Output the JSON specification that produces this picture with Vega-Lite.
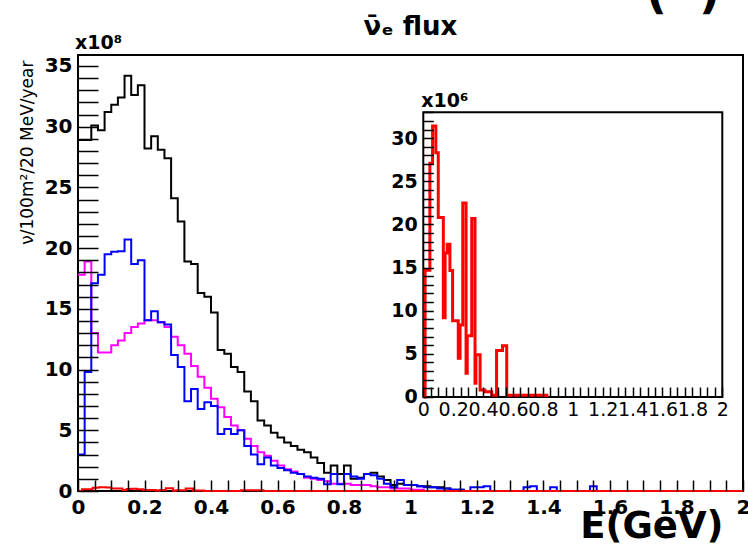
{
  "$schema": "https://vega.github.io/schema/vega-lite/v6.json",
  "width": 665,
  "height": 436,
  "autosize": {"type": "none"},
  "padding": {"left": 78, "top": 55, "right": 5, "bottom": 62},
  "background": "white",
  "title": {"text": "ν̄ₑ flux", "frame": "group", "anchor": "middle", "font": "DejaVu Sans", "fontSize": 26, "fontWeight": "bold", "color": "black", "offset": -90, "baseline": "alphabetic"},
  "config": {
    "view": {"stroke": "black", "strokeWidth": 2},
    "axis": {"grid": false, "domain": false, "tickColor": "black", "tickWidth": 1.5, "labelColor": "black", "labelFont": "DejaVu Sans", "labelFontWeight": "bold", "labelFontSize": 20, "labelOverlap": false, "labelFlush": false, "titleColor": "black"}
  },
  "datasets": {
    "black": [
      {"x": 0, "v": 28.9}, {"x": 0.02, "v": 28.9}, {"x": 0.04, "v": 30.1}, {"x": 0.06, "v": 29.7}, {"x": 0.08, "v": 31.2}, {"x": 0.10, "v": 31.8}, {"x": 0.12, "v": 32.4}, {"x": 0.14, "v": 34.2}, {"x": 0.16, "v": 32.6}, {"x": 0.18, "v": 33.4},
      {"x": 0.20, "v": 28.2}, {"x": 0.22, "v": 29.2}, {"x": 0.24, "v": 28.1}, {"x": 0.26, "v": 27.4}, {"x": 0.28, "v": 24.1}, {"x": 0.30, "v": 22.2}, {"x": 0.32, "v": 18.9}, {"x": 0.34, "v": 18.7}, {"x": 0.36, "v": 16.3}, {"x": 0.38, "v": 16.0},
      {"x": 0.40, "v": 14.7}, {"x": 0.42, "v": 11.6}, {"x": 0.44, "v": 11.3}, {"x": 0.46, "v": 10.2}, {"x": 0.48, "v": 9.8}, {"x": 0.50, "v": 8.2}, {"x": 0.52, "v": 7.4}, {"x": 0.54, "v": 5.8}, {"x": 0.56, "v": 5.4}, {"x": 0.58, "v": 4.8},
      {"x": 0.60, "v": 4.4}, {"x": 0.62, "v": 4.0}, {"x": 0.64, "v": 3.7}, {"x": 0.66, "v": 3.4}, {"x": 0.68, "v": 3.2}, {"x": 0.70, "v": 2.75}, {"x": 0.72, "v": 2.3}, {"x": 0.74, "v": 1.5}, {"x": 0.76, "v": 2.1}, {"x": 0.78, "v": 1.4},
      {"x": 0.80, "v": 2.1}, {"x": 0.82, "v": 1.0}, {"x": 0.84, "v": 1.1}, {"x": 0.86, "v": 1.4}, {"x": 0.88, "v": 1.5}, {"x": 0.90, "v": 1.2}, {"x": 0.92, "v": 0.9}, {"x": 0.94, "v": 0.5}, {"x": 0.96, "v": 0.6}, {"x": 0.98, "v": 0.5},
      {"x": 1.00, "v": 0.5}, {"x": 1.02, "v": 0.4}, {"x": 1.04, "v": 0.4}, {"x": 1.06, "v": 0.3}, {"x": 1.08, "v": 0.3}, {"x": 1.10, "v": 0.2}, {"x": 1.12, "v": 0.1}, {"x": 1.14, "v": 0.1}, {"x": 1.16, "v": 0}, {"x": 2.0, "v": 0}
    ],
    "magenta": [
      {"x": 0, "v": 17.8}, {"x": 0.02, "v": 18.9}, {"x": 0.04, "v": 13.0}, {"x": 0.06, "v": 11.4}, {"x": 0.08, "v": 11.4}, {"x": 0.10, "v": 12.0}, {"x": 0.12, "v": 12.4}, {"x": 0.14, "v": 13.0}, {"x": 0.16, "v": 13.5}, {"x": 0.18, "v": 13.8},
      {"x": 0.20, "v": 14.05}, {"x": 0.22, "v": 14.05}, {"x": 0.24, "v": 13.9}, {"x": 0.26, "v": 13.5}, {"x": 0.28, "v": 12.7}, {"x": 0.30, "v": 12.0}, {"x": 0.32, "v": 11.3}, {"x": 0.34, "v": 10.3}, {"x": 0.36, "v": 9.4}, {"x": 0.38, "v": 8.5},
      {"x": 0.40, "v": 7.6}, {"x": 0.42, "v": 6.9}, {"x": 0.44, "v": 6.1}, {"x": 0.46, "v": 5.4}, {"x": 0.48, "v": 5.0}, {"x": 0.50, "v": 4.3}, {"x": 0.52, "v": 3.7}, {"x": 0.54, "v": 3.2}, {"x": 0.56, "v": 2.9}, {"x": 0.58, "v": 2.5},
      {"x": 0.60, "v": 2.1}, {"x": 0.62, "v": 1.8}, {"x": 0.64, "v": 1.6}, {"x": 0.66, "v": 1.4}, {"x": 0.68, "v": 1.1}, {"x": 0.70, "v": 1.0}, {"x": 0.72, "v": 0.9}, {"x": 0.74, "v": 0.8}, {"x": 0.76, "v": 0.6}, {"x": 0.78, "v": 0.6},
      {"x": 0.80, "v": 0.6}, {"x": 0.82, "v": 0.5}, {"x": 0.84, "v": 0.5}, {"x": 0.86, "v": 0.5}, {"x": 0.88, "v": 0.4}, {"x": 0.90, "v": 0.3}, {"x": 0.92, "v": 0.3}, {"x": 0.94, "v": 0.2}, {"x": 0.96, "v": 0.2}, {"x": 0.98, "v": 0.2},
      {"x": 1.00, "v": 0.1}, {"x": 1.02, "v": 0.1}, {"x": 1.04, "v": 0}, {"x": 2.0, "v": 0}
    ],
    "blue": [
      {"x": 0, "v": 3.0}, {"x": 0.02, "v": 9.8}, {"x": 0.04, "v": 17.1}, {"x": 0.06, "v": 17.8}, {"x": 0.08, "v": 19.5}, {"x": 0.10, "v": 19.7}, {"x": 0.12, "v": 19.75}, {"x": 0.14, "v": 20.7}, {"x": 0.16, "v": 18.7}, {"x": 0.18, "v": 19.0},
      {"x": 0.20, "v": 14.05}, {"x": 0.22, "v": 14.8}, {"x": 0.24, "v": 13.9}, {"x": 0.26, "v": 13.7}, {"x": 0.28, "v": 11.2}, {"x": 0.30, "v": 10.2}, {"x": 0.32, "v": 7.4}, {"x": 0.34, "v": 8.4}, {"x": 0.36, "v": 6.75}, {"x": 0.38, "v": 7.3},
      {"x": 0.40, "v": 7.0}, {"x": 0.42, "v": 4.7}, {"x": 0.44, "v": 5.1}, {"x": 0.46, "v": 4.7}, {"x": 0.48, "v": 5.0}, {"x": 0.50, "v": 3.7}, {"x": 0.52, "v": 3.0}, {"x": 0.54, "v": 2.2}, {"x": 0.56, "v": 2.75}, {"x": 0.58, "v": 2.1},
      {"x": 0.60, "v": 1.9}, {"x": 0.62, "v": 1.7}, {"x": 0.64, "v": 1.5}, {"x": 0.66, "v": 1.4}, {"x": 0.68, "v": 1.2}, {"x": 0.70, "v": 1.1}, {"x": 0.72, "v": 1.0}, {"x": 0.74, "v": 0.55}, {"x": 0.76, "v": 1.4}, {"x": 0.78, "v": 0.55},
      {"x": 0.80, "v": 1.4}, {"x": 0.82, "v": 1.2}, {"x": 0.84, "v": 1.0}, {"x": 0.86, "v": 1.4}, {"x": 0.88, "v": 1.3}, {"x": 0.90, "v": 1.0}, {"x": 0.92, "v": 0.6}, {"x": 0.94, "v": 0.3}, {"x": 0.96, "v": 0.9}, {"x": 0.98, "v": 0.5},
      {"x": 1.00, "v": 0.5}, {"x": 1.02, "v": 0.4}, {"x": 1.04, "v": 0.3}, {"x": 1.06, "v": 0.3}, {"x": 1.08, "v": 0.2}, {"x": 1.10, "v": 0.2}, {"x": 1.12, "v": 0.1}, {"x": 1.14, "v": 0.1}, {"x": 1.16, "v": 0},
      {"x": 1.18, "v": 0.3}, {"x": 1.20, "v": 0.3}, {"x": 1.22, "v": 0.4}, {"x": 1.24, "v": 0}, {"x": 1.34, "v": 0.3}, {"x": 1.36, "v": 0.4}, {"x": 1.38, "v": 0}, {"x": 1.42, "v": 0.3}, {"x": 1.44, "v": 0}, {"x": 1.54, "v": 0.4}, {"x": 1.56, "v": 0}, {"x": 2.0, "v": 0}
    ],
    "redmain": [
      {"x": 0, "v": 0}, {"x": 0.012, "v": 0.147}, {"x": 0.044, "v": 0.271}, {"x": 0.062, "v": 0.314}, {"x": 0.084, "v": 0.283}, {"x": 0.100, "v": 0.208}, {"x": 0.134, "v": 0.092}, {"x": 0.146, "v": 0.167}, {"x": 0.160, "v": 0.177}, {"x": 0.178, "v": 0.1465},
      {"x": 0.196, "v": 0.0885}, {"x": 0.234, "v": 0.045}, {"x": 0.246, "v": 0.0835}, {"x": 0.264, "v": 0.225}, {"x": 0.286, "v": 0.0275}, {"x": 0.294, "v": 0.071}, {"x": 0.324, "v": 0.207}, {"x": 0.346, "v": 0.016}, {"x": 0.352, "v": 0.049}, {"x": 0.380, "v": 0.008},
      {"x": 0.412, "v": 0.006}, {"x": 0.458, "v": 0.002}, {"x": 0.490, "v": 0.054}, {"x": 0.530, "v": 0.0595}, {"x": 0.558, "v": 0.002}, {"x": 0.826, "v": 0}, {"x": 2.0, "v": 0}
    ],
    "inset": [
      {"x": 0, "v": 0}, {"x": 0.012, "v": 14.7}, {"x": 0.044, "v": 27.1}, {"x": 0.062, "v": 31.4}, {"x": 0.084, "v": 28.3}, {"x": 0.100, "v": 20.8}, {"x": 0.134, "v": 9.2}, {"x": 0.146, "v": 16.7}, {"x": 0.160, "v": 17.7}, {"x": 0.178, "v": 14.65},
      {"x": 0.196, "v": 8.85}, {"x": 0.234, "v": 4.5}, {"x": 0.246, "v": 8.35}, {"x": 0.264, "v": 22.5}, {"x": 0.286, "v": 2.75}, {"x": 0.294, "v": 7.1}, {"x": 0.324, "v": 20.7}, {"x": 0.346, "v": 1.6}, {"x": 0.352, "v": 4.9}, {"x": 0.380, "v": 0.8},
      {"x": 0.412, "v": 0.6}, {"x": 0.458, "v": 0.2}, {"x": 0.490, "v": 5.4}, {"x": 0.530, "v": 5.95}, {"x": 0.558, "v": 0.2}, {"x": 0.826, "v": 0}
    ]
  },
  "layer": [
    {
      "data": {"name": "black"},
      "mark": {"type": "line", "interpolate": "step-after", "color": "black", "strokeWidth": 2, "clip": true},
      "encoding": {
        "x": {"field": "x", "type": "quantitative", "scale": {"domain": [0, 2], "nice": false, "zero": false},
          "axis": {
            "orient": "bottom", "zindex": 1,
            "values": [0,0.05,0.1,0.15,0.2,0.25,0.3,0.35,0.4,0.45,0.5,0.55,0.6,0.65,0.7,0.75,0.8,0.85,0.9,0.95,1,1.05,1.1,1.15,1.2,1.25,1.3,1.35,1.4,1.45,1.5,1.55,1.6,1.65,1.7,1.75,1.8,1.85,1.9,1.95,2],
            "labelExpr": "abs(datum.value*5-round(datum.value*5))<0.001 ? ''+round(datum.value*10)/10 : ''",
            "tickSize": -11,
            "encode": {"ticks": {"update": {"y2": {"signal": "abs(datum.value*5-round(datum.value*5))<0.001 ? -11 : -5.5"}}}},
            "labelPadding": 17,
            "title": "E(GeV)", "titleFont": "DejaVu Sans", "titleFontWeight": "bold", "titleFontSize": 37,
            "titleAnchor": "end", "titleAlign": "right", "titleAngle": 0, "titleBaseline": "alphabetic", "titleX": 645, "titleY": 46
          }},
        "y": {"field": "v", "type": "quantitative", "scale": {"domain": [0, 35.9], "nice": false, "zero": false},
          "axis": {
            "orient": "left", "zindex": 1,
            "values": [0,1,2,3,4,5,6,7,8,9,10,11,12,13,14,15,16,17,18,19,20,21,22,23,24,25,26,27,28,29,30,31,32,33,34,35],
            "labelExpr": "datum.value % 5 == 0 ? datum.label : ''",
            "tickSize": -20,
            "encode": {"ticks": {"update": {"x2": {"signal": "datum.value % 5 == 0 ? 20 : 10"}}}},
            "labelPadding": 26,
            "title": "ν/100m²/20 MeV/year", "titleFont": "DejaVu Sans", "titleFontWeight": "normal", "titleFontSize": 17,
            "titleAngle": -90, "titleAlign": "right", "titleBaseline": "middle", "titleX": -51, "titleY": 5
          }}
      }
    },
    {
      "data": {"name": "magenta"},
      "mark": {"type": "line", "interpolate": "step-after", "color": "#ff00ff", "strokeWidth": 2, "clip": true},
      "encoding": {
        "x": {"field": "x", "type": "quantitative", "scale": {"domain": [0, 2], "nice": false, "zero": false}, "axis": null},
        "y": {"field": "v", "type": "quantitative", "scale": {"domain": [0, 35.9], "nice": false, "zero": false}, "axis": null}
      }
    },
    {
      "data": {"name": "blue"},
      "mark": {"type": "line", "interpolate": "step-after", "color": "#0000ff", "strokeWidth": 2, "clip": true},
      "encoding": {
        "x": {"field": "x", "type": "quantitative", "scale": {"domain": [0, 2], "nice": false, "zero": false}, "axis": null},
        "y": {"field": "v", "type": "quantitative", "scale": {"domain": [0, 35.9], "nice": false, "zero": false}, "axis": null}
      }
    },
    {
      "data": {"name": "redmain"},
      "mark": {"type": "line", "interpolate": "step-after", "color": "#ff0000", "strokeWidth": 2, "clip": false},
      "encoding": {
        "x": {"field": "x", "type": "quantitative", "scale": {"domain": [0, 2], "nice": false, "zero": false}, "axis": null},
        "y": {"field": "v", "type": "quantitative", "scale": {"domain": [0, 35.9], "nice": false, "zero": false}, "axis": null}
      }
    },
    {
      "data": {"values": [{"label": "x10⁸", "x": 0, "y": 35.9, "size": 19}, {"label": "(\u00a0\u00a0)", "x": 1.717, "y": 39.3, "size": 46}]},
      "mark": {"type": "text", "align": "left", "baseline": "alphabetic", "font": "DejaVu Sans", "fontWeight": "bold", "color": "black", "dx": -3, "dy": -6},
      "encoding": {
        "x": {"field": "x", "type": "quantitative", "scale": {"domain": [0, 2], "nice": false, "zero": false}, "axis": null},
        "y": {"field": "y", "type": "quantitative", "scale": {"domain": [0, 35.9], "nice": false, "zero": false}, "axis": null},
        "text": {"field": "label"},
        "size": {"field": "size", "type": "quantitative", "scale": null}
      }
    },
    {
      "data": {"values": [{"label": "frame"}]},
      "mark": {"type": "rect", "fill": "white", "stroke": "black", "strokeWidth": 2},
      "encoding": {
        "x": {"datum": 0, "type": "quantitative", "scale": {"domain": [-2.3097, 2.1385], "nice": false, "zero": false},
          "axis": {
            "orient": "bottom", "offset": -94, "zindex": 1,
            "values": [0,0.05,0.1,0.15,0.2,0.25,0.3,0.35,0.4,0.45,0.5,0.55,0.6,0.65,0.7,0.75,0.8,0.85,0.9,0.95,1,1.05,1.1,1.15,1.2,1.25,1.3,1.35,1.4,1.45,1.5,1.55,1.6,1.65,1.7,1.75,1.8,1.85,1.9,1.95,2],
            "labelExpr": "abs(datum.value*5-round(datum.value*5))<0.001 ? ''+round(datum.value*10)/10 : ''",
            "tickSize": -10,
            "encode": {"ticks": {"update": {"y2": {"signal": "abs(datum.value*5-round(datum.value*5))<0.001 ? -10 : -5"}}}},
            "labelPadding": 13, "labelFontWeight": "normal", "labelFontSize": 19, "title": null
          }},
        "x2": {"datum": 2},
        "y": {"datum": 0, "type": "quantitative", "scale": {"domain": [-10.896, 39.642], "nice": false, "zero": false},
          "axis": {
            "orient": "left", "offset": -345.3, "zindex": 1,
            "values": [0,1,2,3,4,5,6,7,8,9,10,11,12,13,14,15,16,17,18,19,20,21,22,23,24,25,26,27,28,29,30,31,32,33],
            "labelExpr": "datum.value % 5 == 0 ? datum.label : ''",
            "tickSize": -10,
            "encode": {"ticks": {"update": {"x2": {"signal": "datum.value % 5 == 0 ? 10 : 5"}}}},
            "labelPadding": 16, "labelFontSize": 19, "title": null
          }},
        "y2": {"datum": 33}
      }
    },
    {
      "data": {"name": "inset"},
      "mark": {"type": "line", "interpolate": "step-after", "color": "#ff0000", "strokeWidth": 3},
      "encoding": {
        "x": {"field": "x", "type": "quantitative", "scale": {"domain": [-2.3097, 2.1385], "nice": false, "zero": false}, "axis": null},
        "y": {"field": "v", "type": "quantitative", "scale": {"domain": [-10.896, 39.642], "nice": false, "zero": false}, "axis": null}
      }
    },
    {
      "data": {"values": [{"label": "x10⁶"}]},
      "mark": {"type": "text", "align": "left", "baseline": "alphabetic", "font": "DejaVu Sans", "fontWeight": "bold", "fontSize": 19, "color": "black", "dx": -2, "dy": -5},
      "encoding": {
        "x": {"datum": 0, "type": "quantitative", "scale": {"domain": [-2.3097, 2.1385], "nice": false, "zero": false}, "axis": null},
        "y": {"datum": 33, "type": "quantitative", "scale": {"domain": [-10.896, 39.642], "nice": false, "zero": false}, "axis": null},
        "text": {"field": "label"}
      }
    }
  ],
  "resolve": {"scale": {"x": "independent", "y": "independent"}}
}
